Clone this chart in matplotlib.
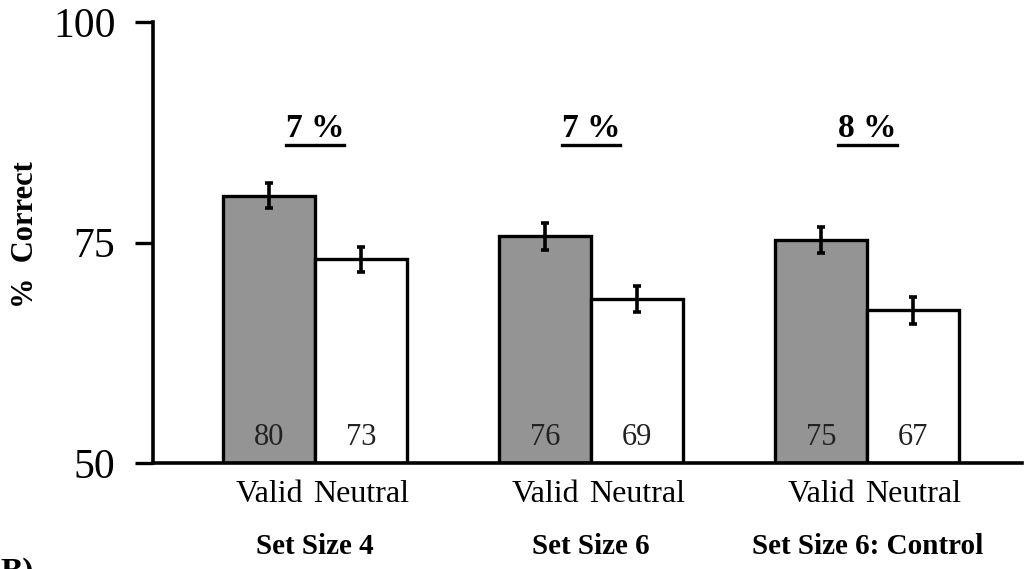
import numpy as np
import matplotlib
matplotlib.use('Agg')
import matplotlib.pyplot as plt
from matplotlib import transforms

# data
groups = ['Set Size 4', 'Set Size 6', 'Set Size 6: Control']
conditions = ['Valid', 'Neutral']
valid = [80.3, 75.7, 75.3]
neutral = [73.1, 68.6, 67.3]
valid_err = [1.4, 1.5, 1.5]
neutral_err = [1.4, 1.5, 1.5]
valid_lab = ['80', '76', '75']
neutral_lab = ['73', '69', '67']
diff_lab = ['7 %', '7 %', '8 %']

plt.rcParams['font.family'] = ['Liberation Serif', 'DejaVu Serif']

fig = plt.figure(figsize=(10.29, 5.69), dpi=100)
ax = fig.add_axes([153 / 1029, 1 - 463 / 569, (1022 - 153) / 1029, (463 - 22) / 569])

x = np.arange(len(groups)) * 3.0
w = 1.0
lw = 2.4

ax.bar(x - w / 2, np.array(valid) - 50, w, bottom=50, color='#949494',
       edgecolor='black', linewidth=lw, zorder=2)
ax.bar(x + w / 2, np.array(neutral) - 50, w, bottom=50, color='white',
       edgecolor='black', linewidth=lw, zorder=2)
ax.errorbar(x - w / 2, valid, yerr=valid_err, fmt='none', ecolor='black',
            elinewidth=2.6, capsize=3, capthick=2.6, zorder=3)
ax.errorbar(x + w / 2, neutral, yerr=neutral_err, fmt='none', ecolor='black',
            elinewidth=2.6, capsize=3, capthick=2.6, zorder=3)

# numbers in the bars
for i in range(len(groups)):
    ax.text(x[i] - w / 2, 51.3, valid_lab[i], ha='center', va='bottom',
            fontsize=22, color='#222222', zorder=4)
    ax.text(x[i] + w / 2, 51.3, neutral_lab[i], ha='center', va='bottom',
            fontsize=22, color='#222222', zorder=4)

ax.set_ylim(50, 100)
ax.set_xlim(-1.76, 7.68)
ax.set_yticks([50, 75, 100])
ax.tick_params(axis='y', labelsize=30, length=13, width=2.4, direction='out', pad=14)

xt = np.concatenate([[xi - w / 2, xi + w / 2] for xi in x])
ax.set_xticks(xt)
ax.set_xticklabels(conditions * len(groups), fontsize=23)
ax.tick_params(axis='x', length=0, pad=12)

ax.spines['top'].set_visible(False)
ax.spines['right'].set_visible(False)
ax.spines['left'].set_linewidth(2.6)
ax.spines['bottom'].set_linewidth(2.6)

trans = transforms.blended_transform_factory(ax.transData, fig.transFigure)
for i, g in enumerate(groups):
    ax.text(x[i], 1 - 547 / 569, g, transform=trans, ha='center', va='center',
            fontsize=21, fontweight='bold')

# difference labels, underlined
diff_txt = []
for i in range(len(groups)):
    t = ax.text(x[i], 87.9, diff_lab[i], ha='center', va='center',
                fontsize=24, fontweight='bold')
    diff_txt.append(t)

fig.canvas.draw()
r = fig.canvas.get_renderer()
inv = ax.transData.inverted()
for t in diff_txt:
    bb = t.get_window_extent(r)
    (x0, y0), (x1, y1) = inv.transform([[bb.x0, bb.y0], [bb.x1, bb.y1]])
    ax.plot([x0, x1], [y0 - 0.1, y0 - 0.1], color='black', linewidth=2.4,
            clip_on=False)

fig.text(26 / 1029, 1 - 235 / 569, '%  Correct', rotation=90, ha='center',
         va='center', fontsize=22, fontweight='bold')
fig.text(0.0, 1 - 557 / 569, 'B)', ha='left', va='top', fontsize=24,
         fontweight='bold')

fig.savefig('out.png', dpi=100)
